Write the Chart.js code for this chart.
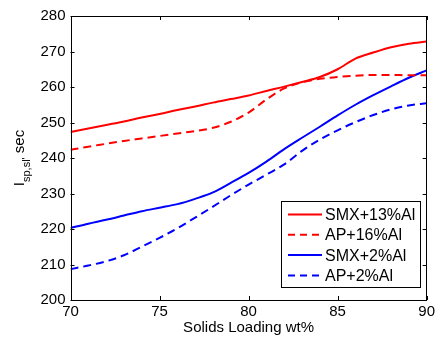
<!DOCTYPE html>
<html>
<head>
<meta charset="utf-8">
<script src="https://cdn.jsdelivr.net/npm/chart.js@4/dist/chart.umd.min.js"></script>
<style>
  html, body { margin: 0; padding: 0; background: #fff; }
  #wrap { width: 438px; height: 337px; }
</style>
</head>
<body>
<div id="wrap"><canvas id="c" width="438" height="337"></canvas></div>
<script>
// ---- data ----
const solidsLoading = [70,71,72,73,74,75,76,77,78,79,80,81,82,83,84,85,86,87,88,89,90];
const smx13Al = [247.3,248.3,249.3,250.3,251.4,252.4,253.5,254.5,255.6,256.6,257.6,258.9,260.1,261.4,262.8,265.0,268.0,269.7,271.2,272.2,272.8];
const ap16Al  = [242.3,243.2,244.0,244.8,245.5,246.2,246.9,247.6,248.5,250.2,252.8,256.5,259.6,261.3,262.3,262.8,263.2,263.4,263.4,263.3,263.3];
const smx2Al  = [220.3,221.5,222.6,223.8,225.0,226.0,227.0,228.5,230.3,233.0,235.8,239.0,242.5,245.7,248.8,252.0,255.0,257.7,260.2,262.6,264.7];
const ap2Al   = [208.7,209.7,210.9,212.6,215.0,217.5,220.2,223.2,226.3,229.5,232.5,235.3,238.2,242.0,245.2,247.8,250.1,252.1,253.7,254.8,255.4];
const seriesLabels = ['SMX+13%Al','AP+16%Al','SMX+2%Al','AP+2%Al'];
const xTicks = [70,75,80,85,90];
const yTicks = [200,210,220,230,240,250,260,270,280];

const FONT = '"Liberation Sans", Arial, Helvetica, sans-serif';
const toPts = arr => solidsLoading.map((x,i) => ({x, y: arr[i]}));

function ds(label, arr, color, dashed) {
  return {
    label, data: toPts(arr), borderColor: color, backgroundColor: color,
    borderWidth: 2, pointRadius: 0, tension: 0.3, cubicInterpolationMode: 'monotone',
    borderDash: dashed ? [8,5] : [], fill: false
  };
}

// inside ticks + box + legend + y title
const decor = {
  id: 'decor',
  afterDatasetsDraw(chart) {
    const {ctx, chartArea: a, scales: {x, y}} = chart;
    ctx.save();
    ctx.strokeStyle = '#000';
    ctx.lineWidth = 1;
    // box
    ctx.strokeRect(Math.round(a.left)+0.5, Math.round(a.top)+0.5, Math.round(a.right-a.left)-1, Math.round(a.bottom-a.top));
    const L = 4;
    ctx.beginPath();
    xTicks.forEach(v => {
      const px = Math.round(x.getPixelForValue(v)) + 0.5;
      ctx.moveTo(px, a.bottom); ctx.lineTo(px, a.bottom - L);
      ctx.moveTo(px, a.top); ctx.lineTo(px, a.top + L);
    });
    yTicks.forEach(v => {
      const py = Math.round(y.getPixelForValue(v)) + 0.5;
      ctx.moveTo(a.left, py); ctx.lineTo(a.left + L, py);
      ctx.moveTo(a.right, py); ctx.lineTo(a.right - L, py);
    });
    ctx.stroke();

    // legend
    const bx = 281.5, by = 201.5, bw = 139, bh = 86;
    ctx.fillStyle = '#fff';
    ctx.fillRect(bx, by, bw, bh);
    ctx.strokeRect(bx, by, bw, bh);
    ctx.font = '16px ' + FONT;
    ctx.textBaseline = 'middle';
    ctx.textAlign = 'left';
    chart.data.datasets.forEach((d, i) => {
      const cy = 214.5 + i * 20.3;
      ctx.strokeStyle = d.borderColor;
      ctx.lineWidth = 2;
      ctx.setLineDash(d.borderDash.length ? [7,5] : []);
      ctx.beginPath();
      ctx.moveTo(288, cy); ctx.lineTo(322, cy);
      ctx.stroke();
      ctx.setLineDash([]);
      ctx.fillStyle = '#000';
      ctx.fillText(d.label, 325, cy + 1);
    });

    // y-axis title with subscript
    const big = '15px ' + FONT, small = '11px ' + FONT;
    ctx.font = big; const w1 = ctx.measureText('I').width;
    ctx.font = small; const w2 = ctx.measureText("sp,sl'").width;
    ctx.font = big; const w3 = ctx.measureText(' sec').width;
    const total = w1 + w2 + w3;
    const cyT = (a.top + a.bottom) / 2;
    ctx.translate(24, cyT);
    ctx.rotate(-Math.PI / 2);
    ctx.fillStyle = '#000';
    ctx.textBaseline = 'alphabetic';
    let sx = -total / 2;
    ctx.font = big; ctx.fillText('I', sx, 0); sx += w1;
    ctx.font = small; ctx.fillText("sp,sl'", sx, 6); sx += w2;
    ctx.font = big; ctx.fillText(' sec', sx, 0);
    ctx.restore();
  }
};

new Chart(document.getElementById('c'), {
  type: 'line',
  data: {
    datasets: [
      ds(seriesLabels[0], smx13Al, '#ff0000', false),
      ds(seriesLabels[1], ap16Al, '#ff0000', true),
      ds(seriesLabels[2], smx2Al, '#0000ff', false),
      ds(seriesLabels[3], ap2Al, '#0000ff', true)
    ]
  },
  options: {
    responsive: false,
    animation: false,
    events: [],
    layout: { padding: { top: 16, right: 8, left: 0, bottom: 0 } },
    plugins: { legend: { display: false }, tooltip: { enabled: false } },
    scales: {
      x: {
        type: 'linear', min: 70, max: 90,
        afterBuildTicks: s => { s.ticks = xTicks.map(v => ({value: v})); },
        afterFit: s => { s.height = 37; },
        ticks: { color: '#000', font: { family: FONT, size: 15 }, padding: 3, maxRotation: 0 },
        grid: { display: false, drawTicks: false },
        border: { display: false },
        title: { display: true, text: 'Solids Loading wt%', color: '#000', font: { family: FONT, size: 15 }, padding: { top: 0, bottom: 0 } }
      },
      y: {
        min: 200, max: 280,
        afterBuildTicks: s => { s.ticks = yTicks.map(v => ({value: v})); },
        afterFit: s => { s.width = 70.5; },
        ticks: { color: '#000', font: { family: FONT, size: 15 }, padding: 5 },
        grid: { display: false, drawTicks: false },
        border: { display: false }
      }
    }
  },
  plugins: [decor]
});
</script>
</body>
</html>
